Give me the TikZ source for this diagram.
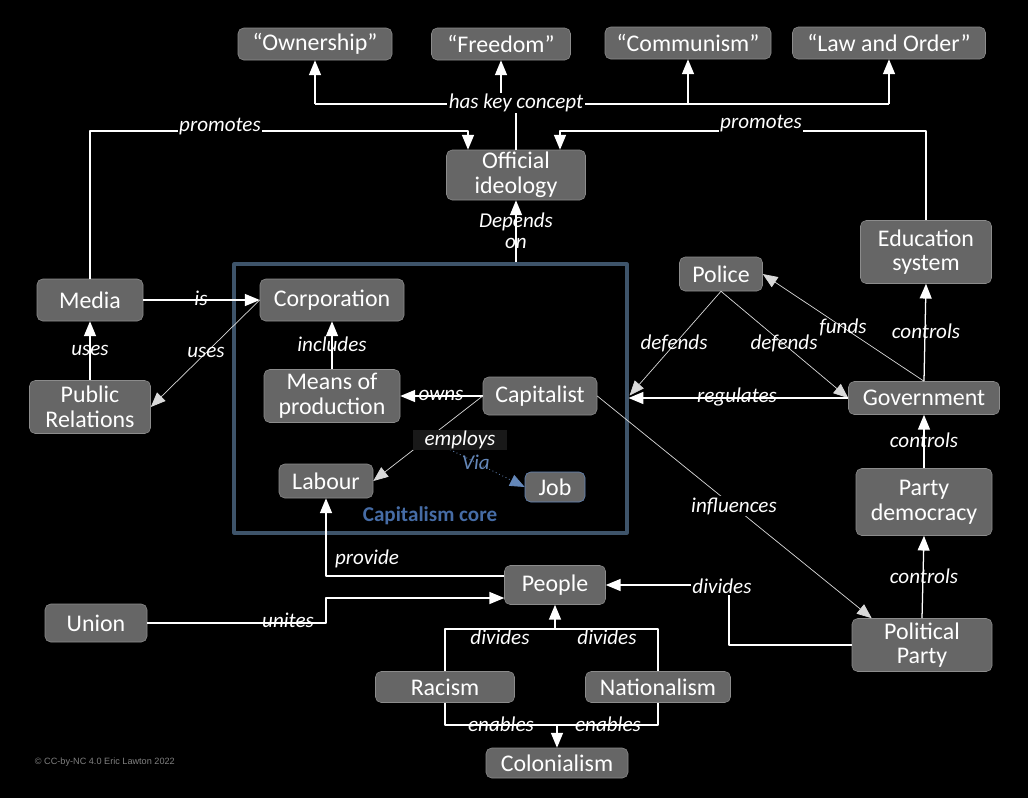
\documentclass[tikz,border=0pt]{standalone}
\usepackage{fontspec}
\setmainfont{Carlito}
\newfontfamily\crfont{Liberation Sans}
\usetikzlibrary{arrows.meta,calc}
\definecolor{boxgray}{RGB}{102,102,102}
\definecolor{boxline}{RGB}{140,140,140}
\definecolor{coreline}{RGB}{62,84,106}
\definecolor{coreblue}{RGB}{70,108,165}
\definecolor{viablue}{RGB}{100,135,185}
\def\px{0.025cm}
\tikzset{
  box/.style={draw=boxline, fill=boxgray, rounded corners=4pt, text=white, align=center,
    font=\fontsize{17}{17.5}\selectfont, inner sep=0pt},
  sz/.style 2 args={minimum width=#1*\px, minimum height=#2*\px},
  link/.style={draw=white, line width=0.9pt},
  fine/.style={draw=white!85!black, line width=0.5pt},
  lbl/.style={text=white, font=\fontsize{15}{15}\selectfont\itshape, inner sep=1pt},
  lblk/.style={lbl, fill=black},
}
\begin{document}
\begin{tikzpicture}[x=\px, y=-\px, >={Triangle[length=10.5pt,width=8.5pt]}, line join=round]
    \fill[black] (0,0) rectangle (1028,798);
    \useasboundingbox (0,0) rectangle (1028,798);
    \node[draw=coreline, line width=2.2pt, sz={393}{269}] (core) at (430.5,398.5) {};
    \node[text=coreblue, font=\fontsize{15}{16}\selectfont\bfseries] (corelbl) at (430,516) {Capitalism core};
    \node[box, sz={154}{32}] (own) at (315,44) {“Ownership”};
    \node[box, sz={139}{32}] (free) at (501,44) {“Freedom”};
    \node[box, sz={166}{32}] (comm) at (688,43) {“Communism”};
    \node[box, sz={193}{32}] (law) at (889,43) {“Law and Order”};
    \node[box, sz={139}{50}] (ideo) at (516,175) {Official\\ideology};
    \node[box, sz={131}{63}] (edu) at (926,252) {Education\\system};
    \node[box, sz={83}{34}] (police) at (721,274) {Police};
    \node[box, sz={106}{42}] (media) at (90,300) {Media};
    \node[box, sz={144}{42}] (corp) at (332,300) {Corporation};
    \node[box, sz={121}{53}] (pr) at (90,407) {Public\\Relations};
    \node[box, sz={136}{53}] (means) at (332,396) {Means of\\production};
    \node[box, sz={114}{38}] (cap) at (540,396) {Capitalist};
    \node[box, sz={151}{33}] (gov) at (924,398) {Government};
    \node[box, sz={94}{34}] (labour) at (326,481) {Labour};
    \node[box, sz={60}{30}, draw=viablue] (job) at (555,487) {Job};
    \node[box, sz={136}{67}] (partydem) at (924,502) {Party\\democracy};
    \node[box, sz={101}{39}] (people) at (555,585) {People};
    \node[box, sz={102}{38}] (union) at (96,623) {Union};
    \node[box, sz={140}{53}] (party) at (922,645) {Political\\Party};
    \node[box, sz={139}{31}] (racism) at (445,687) {Racism};
    \node[box, sz={145}{31}] (nation) at (658,687) {Nationalism};
    \node[box, sz={142}{30}] (colon) at (557,763) {Colonialism};
    \coordinate (hkc) at (516,104);
    \draw[link] (ideo.north) -- (hkc);
    \draw[link] (own.south |- hkc) -- (law.south |- hkc);
    \foreach \n in {own,free,comm,law} \draw[link,->] (\n.south |- hkc) -- (\n.south);
    \coordinate (prl) at (468,131);
    \coordinate (prr) at (560,131);
    \draw[link,->] (media.north) |- (prl) -- (prl |- ideo.north);
    \draw[link,->] (edu.north) |- (prr) -- (prr |- ideo.north);
    \draw[link,->] (ideo.south |- core.north) -- (ideo.south);
    \draw[link,->] (media.east) -- (corp.west);
    \draw[fine,->] (corp.west) -- (pr.east);
    \draw[link,->] (pr.north) -- (media.south);
    \draw[link,->] (means.north) -- (corp.south);
    \draw[link,->] (cap.west) -- (means.east);
    \draw[fine,->] (cap.west) -- (labour.east);
    \coordinate (vias) at (437,443);
    \draw[viablue, dotted, line width=0.6pt, ->] (vias) -- (job.west);
    \draw[fine,->] (cap.east) -- ($(party.north west)+(20,0)$);
    \draw[fine,->] (police.south) -- ($(core.east)+(1,-3)$);
    \draw[fine,->] (police.south) -- (gov.west);
    \draw[fine,->] (gov.north) -- (police.east);
    \draw[link,->] (gov.north) -- (edu.south);
    \draw[link,->] (gov.west) -- (core.east |- gov.west);
    \draw[link,->] (partydem.north) -- (gov.south);
    \draw[link,->] (party.north) -- (partydem.south);
    \draw[link,->] ($(people.west)+(0,-9)$) -| (labour.south);
    \coordinate (unc) at (326,598);
    \draw[link,->] (union.east) -| (unc) -- (people.west |- unc);
    \coordinate (dvc) at (555,629);
    \draw[link] (racism.north) |- (dvc) -| (nation.north);
    \draw[link,->] (dvc) -- (people.south);
    \coordinate (dpc) at (729,585);
    \draw[link,->] (party.west) -| (dpc) -- (people.east);
    \coordinate (enc) at (557,725);
    \draw[link] (racism.south) |- (enc) -| (nation.south);
    \draw[link,->] (enc) -- (colon.north);
    \node[lblk] (lhk) at (516,103) {has key concept};
    \node[lblk] (lpl) at (220,127) {promotes};
    \node[lblk] (lpr) at (761,124) {promotes};
    \node[lbl, align=center] (ldep) at (516,231) {Depends\\on};
    \node[lbl] (lis) at (201,298) {is};
    \node[lbl] (luse1) at (90,350) {uses};
    \node[lbl] (luse2) at (206,352) {uses};
    \node[lbl] (linc) at (332,344) {includes};
    \node[lbl] (lown) at (441,395) {owns};
    \node[lbl, fill=black!90!white, minimum width=94*\px] (lemp) at (460,440) {employs};
    \node[lbl, text=viablue] (lvia) at (476,462) {Via};
    \node[lblk] (linf) at (734,506) {influences};
    \node[lbl] (ldef1) at (674,343) {defends};
    \node[lbl] (ldef2) at (784,343) {defends};
    \node[lbl] (lfund) at (843,327) {funds};
    \node[lbl] (lctl1) at (926,331) {controls};
    \node[lbl] (lreg) at (737,397) {regulates};
    \node[lbl] (lctl2) at (924,440) {controls};
    \node[lbl] (lctl3) at (924,576) {controls};
    \node[lbl] (lprov) at (367,559) {provide};
    \node[lbl] (lunit) at (288,620) {unites};
    \node[lbl] (ldiv1) at (500,637) {divides};
    \node[lbl] (ldiv2) at (607,637) {divides};
    \node[lblk] (ldiv3) at (722,586) {divides};
    \node[lbl] (len1) at (501,724) {enables};
    \node[lbl] (len2) at (608,724) {enables};
    \node[text=gray, font=\crfont\fontsize{6.5}{7}\selectfont, anchor=west] (copy) at (30,762) {© CC-by-NC 4.0 Eric Lawton 2022};
\end{tikzpicture}
\end{document}
